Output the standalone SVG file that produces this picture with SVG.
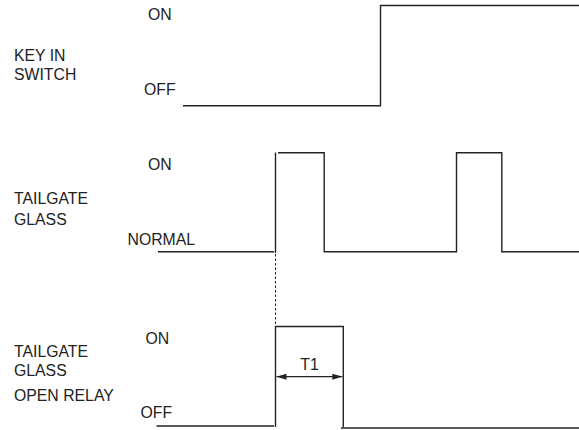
<svg xmlns="http://www.w3.org/2000/svg" width="579" height="430" viewBox="0 0 579 430">
<defs>
<style>
text{font-family:"Liberation Sans",Arial,sans-serif;font-size:15.8px;fill:#222}
.w{fill:none;stroke:#222;stroke-width:1.4}
.d{fill:none;stroke:#222;stroke-width:1;stroke-dasharray:2.5 2}
</style>
<marker id="ah" markerWidth="10" markerHeight="6" refX="10" refY="3" orient="auto-start-reverse" markerUnits="userSpaceOnUse">
<path d="M0,0 L10,3 L0,6 Z" fill="#222"/>
</marker>
</defs>
<rect width="579" height="430" fill="#fff"/>
<g id="key-in-switch">
<text x="14" y="61">KEY IN</text>
<text x="14" y="79.5">SWITCH</text>
<text x="148" y="20">ON</text>
<text x="144" y="95">OFF</text>
</g>
<g id="tailgate-glass">
<text x="14" y="203.5">TAILGATE</text>
<text x="14" y="224.5">GLASS</text>
<text x="148" y="170">ON</text>
<text x="127.5" y="244.5">NORMAL</text>
</g>
<g id="tailgate-glass-open-relay">
<text x="14" y="357">TAILGATE</text>
<text x="14" y="376">GLASS</text>
<text x="14" y="401">OPEN RELAY</text>
<text x="145.5" y="343.5">ON</text>
<text x="140.5" y="417.5">OFF</text>
<text x="309.5" y="370" text-anchor="middle">T1</text>
</g>
<g id="connectors">
<path class="w" d="M183,105.8 H380.5 V5.5 H579"/>
<path class="w" d="M158,251.8 H274"/>
<path class="w" d="M275.5,152.5 V253"/>
<path class="w" d="M278,152.8 H324.2 V251.8 H456.5 V152.8 H501.8 V251.8 H579"/>
<path class="d" d="M275.5,254 V326"/>
<path class="w" d="M156.5,426 H274"/>
<path class="w" d="M275.5,427 V326.5 H343.3 V427"/>
<path class="w" d="M341,428 H579"/>
<path fill="none" stroke="#222" stroke-width="1.3" d="M276.5,376.7 H342.3" marker-start="url(#ah)" marker-end="url(#ah)"/>
</g>
</svg>
